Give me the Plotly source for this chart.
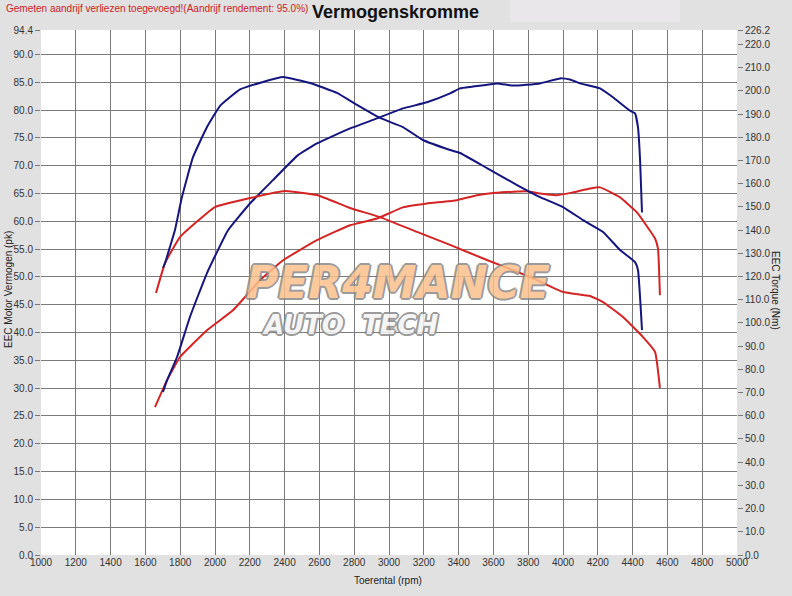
import plotly.graph_objects as go

# ---- data ----
rpm_pow_tuned = [1701, 1724, 1782, 1856, 1954, 2075, 2201, 2333, 2477, 2586, 2776, 2931, 3080, 3218,
                 3351, 3408, 3477, 3621, 3713, 3868, 3983, 4040, 4098, 4213, 4287, 4385, 4414, 4431, 4443, 4454]
pow_tuned = [29.3, 31.4, 35.6, 42.8, 50.7, 58.4, 63.2, 67.4, 71.9, 74.0, 76.7, 78.5, 80.3, 81.4,
             83.0, 83.9, 84.2, 84.8, 84.4, 84.8, 85.7, 85.5, 84.8, 83.9, 82.3, 79.9, 79.4, 76.9, 71.0, 61.6]

rpm_trq_tuned = [1701, 1713, 1741, 1770, 1810, 1874, 1954, 2029, 2144, 2276, 2391, 2546, 2701, 2816,
                 2948, 3080, 3195, 3351, 3408, 3563, 3736, 3868, 4000, 4115, 4230, 4328, 4414, 4431, 4454]
trq_tuned = [123.7, 125.8, 132.7, 140.0, 154.2, 171.5, 184.4, 193.5, 200.6, 203.8, 205.9, 203.4, 199.1, 193.9,
             188.3, 184.4, 178.8, 174.5, 173.2, 166.7, 159.4, 154.2, 149.9, 144.3, 139.2, 131.4, 126.2, 122.8, 96.9]

rpm_pow_stock = [1655, 1724, 1799, 1954, 2103, 2259, 2391, 2586, 2776, 2931, 3080, 3218, 3391, 3506,
                 3638, 3793, 3868, 3966, 4057, 4155, 4213, 4328, 4425, 4529, 4546, 4557]
pow_stock = [26.6, 31.4, 35.6, 40.4, 44.0, 49.4, 53.0, 56.6, 59.3, 60.5, 62.5, 63.2, 63.8, 64.7,
             65.2, 65.4, 65.0, 64.7, 65.2, 65.9, 66.1, 64.3, 61.6, 56.9, 55.1, 46.7]

rpm_trq_stock = [1661, 1713, 1799, 2000, 2201, 2402, 2586, 2776, 2948, 3161, 3351, 3563, 3810, 4000,
                 4155, 4230, 4345, 4460, 4529, 4557]
trq_stock = [112.9, 125.8, 137.0, 149.9, 153.8, 156.8, 155.1, 149.5, 145.6, 139.2, 133.6, 127.1, 119.8, 113.3,
             111.6, 109.0, 102.5, 93.9, 87.5, 72.0]

x_ticks = list(range(1000, 5001, 200))
left_ticks = [i * 5.0 for i in range(19)] + [94.4]
right_ticks = [i * 10.0 for i in range(23)] + [226.2]

BLUE = "#15157f"
RED = "#d42424"
FONT = "Liberation Sans, Arial, sans-serif"

fig = go.Figure()
sp = dict(shape="spline", smoothing=0.35)
fig.add_trace(go.Scatter(x=rpm_pow_stock, y=pow_stock, mode="lines", line=dict(color=RED, width=2, **sp), yaxis="y"))
fig.add_trace(go.Scatter(x=rpm_trq_stock, y=trq_stock, mode="lines", line=dict(color=RED, width=2, **sp), yaxis="y2"))
fig.add_trace(go.Scatter(x=rpm_pow_tuned, y=pow_tuned, mode="lines", line=dict(color=BLUE, width=2, **sp), yaxis="y"))
fig.add_trace(go.Scatter(x=rpm_trq_tuned, y=trq_tuned, mode="lines", line=dict(color=BLUE, width=2, **sp), yaxis="y2"))

fig.update_layout(
    width=792, height=596,
    margin=dict(l=41, r=55, t=30, b=41, autoexpand=False),
    paper_bgcolor="#e1e1e1",
    plot_bgcolor="#ffffff",
    showlegend=False,
    hovermode=False,
    font=dict(family=FONT, size=10, color="#333333"),
    xaxis=dict(range=[1000, 5000], tickvals=x_ticks, ticktext=[str(v) for v in x_ticks],
               showgrid=True, gridcolor="#7a7a7a", gridwidth=1, zeroline=False, showline=False,
               ticks="", tickfont=dict(size=10, color="#333333"), automargin=False),
    yaxis=dict(range=[0, 94.4], tickvals=left_ticks, ticktext=[f"{v:.1f}" for v in left_ticks],
               showgrid=True, gridcolor="#7a7a7a", gridwidth=1, zeroline=False, showline=False,
               ticks="outside", ticklen=5, tickcolor="#777777", tickfont=dict(size=10, color="#333333"),
               automargin=False),
    yaxis2=dict(range=[0, 226.2], overlaying="y", side="right", tickvals=right_ticks,
                ticktext=[f"{v:.1f}" for v in right_ticks], showgrid=False, zeroline=False, showline=False,
                ticks="outside", ticklen=5, tickcolor="#777777", tickfont=dict(size=10, color="#333333"),
                automargin=False),
)

# lighter box near top right
fig.add_shape(type="rect", xref="paper", yref="paper", x0=0.674, x1=0.918, y0=1.015, y1=1.06,
              fillcolor="#e9e7e9", line=dict(width=0), layer="below")

# title and note
fig.add_annotation(text="<b>Vermogenskromme</b>", xref="paper", yref="paper", x=(395 - 41) / 696, y=(555 - 12) / 525,
                   xanchor="center", yanchor="middle", showarrow=False, font=dict(size=18, color="#111111", family=FONT))
fig.add_annotation(text="Gemeten aandrijf verliezen toegevoegd!(Aandrijf rendement: 95.0%)", xref="paper", yref="paper",
                   x=-37 / 696, y=(555 - 8) / 525, xanchor="left", yanchor="middle", showarrow=False,
                   font=dict(size=10, color="#cc2222", family=FONT))

# axis titles
fig.add_annotation(text="Toerental (rpm)", xref="paper", yref="paper", x=(388 - 41) / 696, y=-25 / 525,
                   xanchor="center", yanchor="middle", showarrow=False, font=dict(size=10, color="#222222"))
fig.add_annotation(text="EEC Motor Vermogen (pk)", xref="paper", yref="paper", x=-33 / 696, y=(555 - 290) / 525,
                   xanchor="center", yanchor="middle", showarrow=False, textangle=-90, font=dict(size=10, color="#222222"))
fig.add_annotation(text="EEC Torque (Nm)", xref="paper", yref="paper", x=(776 - 41) / 696, y=(555 - 290) / 525,
                   xanchor="center", yanchor="middle", showarrow=False, textangle=90, font=dict(size=10, color="#222222"))

# watermark logo
outline = "-1px -1px 0 #8a8a8a, 1px -1px 0 #8a8a8a, -1px 1px 0 #8a8a8a, 1px 1px 0 #8a8a8a, -2px 0 0 #8a8a8a, 2px 0 0 #8a8a8a, 0 -2px 0 #8a8a8a, 0 2px 0 #8a8a8a"
fig.add_annotation(text="<b><i>PER4MANCE</i></b>", xref="paper", yref="paper", x=(398 - 41) / 696, y=(555 - 282) / 525,
                   xanchor="center", yanchor="middle", showarrow=False, opacity=0.85,
                   font=dict(size=44, color="#fbc08a", family="DejaVu Sans", shadow=outline))
fig.add_annotation(text="<b><i>AUTO  TECH</i></b>", xref="paper", yref="paper", x=(350 - 41) / 696, y=(555 - 325) / 525,
                   xanchor="center", yanchor="middle", showarrow=False, opacity=0.85,
                   font=dict(size=26, color="#f4f4f4", family="DejaVu Sans", shadow=outline))

fig.write_html("out.html", config={"displayModeBar": False},
               post_script="document.body.style.margin='0';document.body.style.padding='0';")
